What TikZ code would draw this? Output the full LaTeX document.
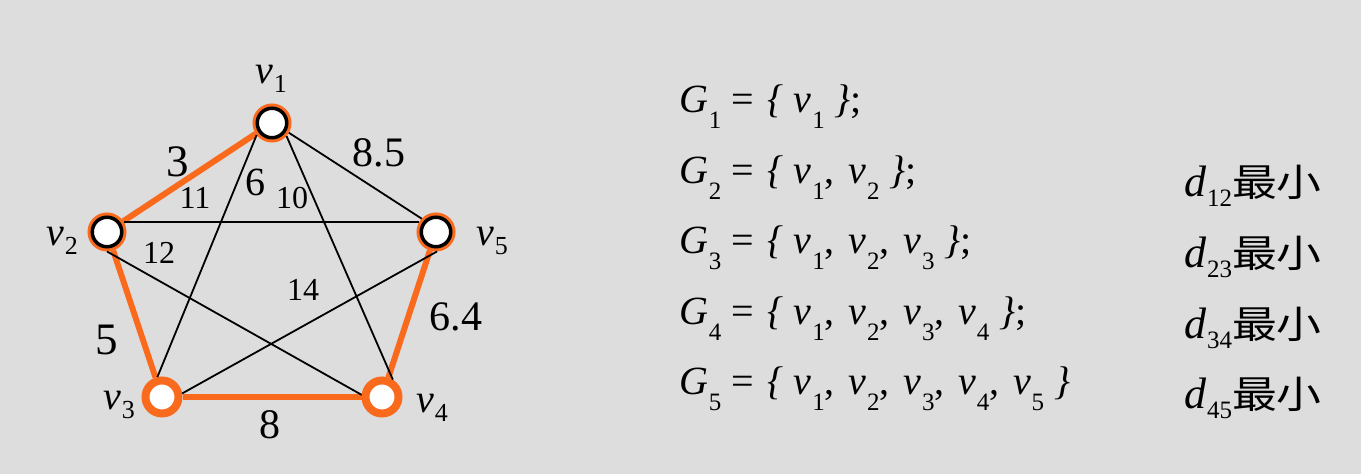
\documentclass[tikz,border=0pt]{standalone}
\usepackage{fontspec}
\setmainfont{Liberation Serif}
\newfontfamily\cjk{Noto Sans CJK SC}
\definecolor{bgc}{RGB}{221,221,221}
\definecolor{org}{RGB}{250,106,28}
\newcommand{\gv}[1]{\fontsize{20}{20}\selectfont\textit{v}\kern0.3pt\raisebox{-4.5pt}{\fontsize{13}{13}\selectfont #1}}
\newcommand{\rs}[1]{\kern0.3pt\raisebox{-8pt}{\fontsize{12.5}{12.5}\selectfont #1}}
\newcommand{\rv}[1]{\textit{v}\rs{#1}}
\newcommand{\cm}{,\hspace{7pt}}
\newcommand{\lb}{\hspace{2pt}\textit{\{}\hspace{5pt}}
\newcommand{\rb}{\hspace{5pt}\textit{\}}}
\newcommand{\dmin}[1]{\fontsize{22}{22}\selectfont\textit{d}\kern0.3pt\raisebox{-5pt}{\fontsize{12.5}{12.5}\selectfont #1}{\fontsize{19}{19}\selectfont\cjk\scalebox{1.18}[1]{最小}}}
\begin{document}
\begin{tikzpicture}[x=0.5pt,y=-0.5pt,
  vtx/.style={circle, inner sep=0pt, minimum size=14.75pt, fill=white, draw=black, line width=1.75pt, preaction={draw=org, line width=4.75pt}, outer sep=2.375pt},
  vbig/.style={circle, inner sep=0pt, minimum size=16.5pt, fill=white, draw=org, line width=4pt},
  oedge/.style={draw=org, line width=3pt},
  bedge/.style={draw=black, line width=0.9pt},
  lhuge/.style={inner sep=0pt, font=\fontsize{22.5}{22.5}\selectfont},
  lbig/.style={inner sep=0pt, font=\fontsize{21}{21}\selectfont},
  lmid/.style={inner sep=0pt, font=\fontsize{20}{20}\selectfont},
  lsmall/.style={inner sep=0pt, font=\fontsize{16}{16}\selectfont},
  vlab/.style={inner sep=0pt, anchor=base west},
  rtext/.style={inner sep=0pt, anchor=base west, font=\fontsize{20}{20}\selectfont},
  dtext/.style={inner sep=0pt, anchor=base west}]
\fill[bgc] (0,0) rectangle (1361,474);
\useasboundingbox (0,0) rectangle (1361,474);
% vertices
\node[vtx] (v1) at (272,123) {};
\node[vtx] (v2) at (107,232) {};
\node[vtx] (v5) at (436,232) {};
\node[vbig] (v3) at (162,397) {};
\node[vbig] (v4) at (382,397) {};
% orange edges
\draw[oedge] (v1) -- (v2);
\draw[oedge] (v2) -- (v3);
\draw[oedge] (v3) -- (v4);
\draw[oedge] (v4) -- (v5);
% black edges
\draw[bedge] (v1.218) -- (v3.103);
\draw[bedge] (v1.-42) -- (v4.58);
\draw[bedge] (v1.-30) -- (v5.137);
\draw[bedge] (v2.30) -- (v5.150);
\draw[bedge] (v2.-90) -- (v4.174);
\draw[bedge] (v3.10) -- (v5.-87);
% edge labels
\node[lhuge] (l3) at (178,162) {3};
\node[lsmall] (l11) at (195,198) {11};
\node[lmid] (l6) at (255,182) {6};
\node[lsmall] (l10) at (292,198) {10};
\node[lbig] (l85) at (379,153) {8.5};
\node[lsmall] (l12) at (159,253) {12};
\node[lsmall] (l14) at (303,290) {14};
\node[lhuge] (l5) at (107,340) {5};
\node[lbig] (l64) at (456,317) {6.4};
\node[lbig] (l8) at (270,425) {8};
% vertex labels
\node[vlab] (t1) at (255,84) {\gv{1}};
\node[vlab] (t2) at (46,246) {\gv{2}};
\node[vlab] (t5) at (476,246) {\gv{5}};
\node[vlab] (t3) at (103,410) {\gv{3}};
\node[vlab] (t4) at (416,413) {\gv{4}};
% right text
\node[rtext] (g1) at (679,113) {\textit{G}\rs{1} = \lb\rv{1}\rb;};
\node[rtext] (g2) at (679,184) {\textit{G}\rs{2} = \lb\rv{1}\cm\rv{2}\rb;};
\node[rtext] (g3) at (679,254) {\textit{G}\rs{3} = \lb\rv{1}\cm\rv{2}\cm\rv{3}\rb;};
\node[rtext] (g4) at (679,325) {\textit{G}\rs{4} = \lb\rv{1}\cm\rv{2}\cm\rv{3}\cm\rv{4}\rb;};
\node[rtext] (g5) at (679,395) {\textit{G}\rs{5} = \lb\rv{1}\cm\rv{2}\cm\rv{3}\cm\rv{4}\cm\rv{5}\rb};
\node[dtext] (d12) at (1184,197) {\dmin{12}};
\node[dtext] (d23) at (1184,268) {\dmin{23}};
\node[dtext] (d34) at (1184,339) {\dmin{34}};
\node[dtext] (d45) at (1184,409) {\dmin{45}};
\end{tikzpicture}
\end{document}
